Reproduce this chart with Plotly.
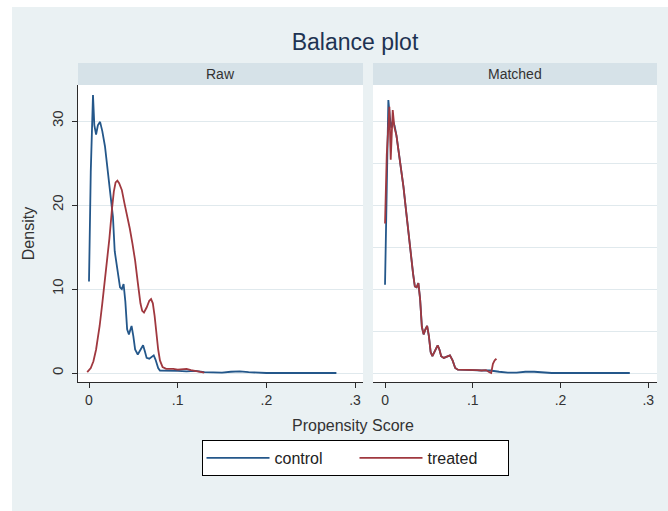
import plotly.graph_objects as go
from plotly.subplots import make_subplots

# ---- data ----
raw_control_x = [0.000, 0.002, 0.0045, 0.006, 0.008, 0.010, 0.0125, 0.015, 0.018, 0.021, 0.024,
                 0.027, 0.029, 0.031, 0.033, 0.035, 0.037, 0.039, 0.041, 0.043, 0.045, 0.048,
                 0.050, 0.052, 0.055, 0.058, 0.061, 0.063, 0.065, 0.068, 0.071, 0.073, 0.075,
                 0.078, 0.080, 0.090, 0.100, 0.110, 0.120, 0.130, 0.140, 0.150, 0.160, 0.170,
                 0.180, 0.190, 0.200, 0.220, 0.240, 0.260, 0.279]
raw_control_y = [10.9, 24.0, 33.1, 29.5, 28.4, 29.5, 29.9, 28.8, 27.0, 24.0, 21.5,
                 18.6, 14.5, 13.2, 11.8, 10.2, 10.0, 10.6, 8.5, 5.2, 4.6, 5.6,
                 4.4, 2.8, 2.2, 2.7, 3.3, 2.6, 1.8, 1.7, 2.0, 2.1, 1.6,
                 0.6, 0.3, 0.3, 0.25, 0.2, 0.25, 0.1, 0.05, 0.05, 0.15, 0.2,
                 0.1, 0.05, 0.0, 0.0, 0.0, 0.0, 0.0]

raw_treated_x = [-0.002, 0.002, 0.005, 0.008, 0.010, 0.012, 0.015, 0.018, 0.020, 0.023, 0.026,
                 0.028, 0.030, 0.032, 0.034, 0.037, 0.040, 0.043, 0.046, 0.049, 0.052, 0.055,
                 0.058, 0.060, 0.062, 0.065, 0.068, 0.070, 0.072, 0.074, 0.076, 0.078, 0.080,
                 0.083, 0.087, 0.095, 0.100, 0.105, 0.110, 0.115, 0.120, 0.125, 0.130]
raw_treated_y = [0.1, 0.6, 1.4, 2.8, 4.2, 5.6, 8.3, 11.2, 12.8, 16.0, 19.6,
                 21.6, 22.7, 22.9, 22.6, 21.8, 20.2, 18.8, 17.2, 15.4, 13.4, 10.8,
                 8.3, 7.4, 7.2, 7.8, 8.6, 8.8, 8.3, 6.8, 4.6, 2.8, 1.5,
                 0.7, 0.5, 0.5, 0.4, 0.45, 0.5, 0.35, 0.25, 0.1, 0.05]

matched_control_x = [0.000, 0.002, 0.0038, 0.0055, 0.007, 0.009, 0.011, 0.013, 0.015, 0.018, 0.021,
                     0.024, 0.027, 0.030, 0.032, 0.034, 0.036, 0.038, 0.040, 0.042, 0.044, 0.046,
                     0.048, 0.050, 0.052, 0.054, 0.057, 0.060, 0.062, 0.064, 0.067, 0.070, 0.074,
                     0.077, 0.080, 0.083, 0.090, 0.100, 0.110, 0.120, 0.130, 0.140, 0.150, 0.160,
                     0.170, 0.180, 0.190, 0.200, 0.240, 0.279]
matched_control_y = [10.5, 22.0, 32.5, 30.5, 29.2, 30.0, 29.4, 28.3, 26.9, 24.6, 22.2,
                     19.3, 16.2, 13.5, 11.8, 10.3, 10.2, 10.7, 8.8, 5.5, 4.6, 5.2,
                     5.6, 4.4, 2.5, 2.0, 2.6, 3.3, 2.8, 2.0, 1.8, 1.9, 2.1,
                     1.5, 0.6, 0.4, 0.35, 0.35, 0.3, 0.3, 0.15, 0.05, 0.05, 0.15,
                     0.15, 0.05, 0.0, 0.0, 0.0, 0.0]

matched_treated_x = [0.000, 0.002, 0.005, 0.0065, 0.0088, 0.0106, 0.013, 0.015, 0.018, 0.021, 0.024,
                     0.027, 0.030, 0.032, 0.034, 0.036, 0.038, 0.040, 0.042, 0.044, 0.046, 0.048,
                     0.050, 0.052, 0.054, 0.057, 0.060, 0.062, 0.064, 0.067, 0.070, 0.074, 0.077,
                     0.080, 0.083, 0.090, 0.100, 0.105, 0.110, 0.115, 0.119, 0.121, 0.123, 0.125,
                     0.127]
matched_treated_y = [17.8, 26.0, 31.7, 25.4, 31.3, 29.3, 28.3, 26.9, 24.6, 22.2, 19.3,
                     16.2, 13.5, 11.8, 10.3, 10.2, 10.7, 8.8, 5.5, 4.6, 5.2, 5.6,
                     4.4, 2.5, 2.0, 2.6, 3.3, 2.8, 2.0, 1.8, 1.9, 2.1, 1.5,
                     0.6, 0.4, 0.4, 0.4, 0.35, 0.3, 0.35, 0.1, 0.0, 1.1, 1.5,
                     1.7]

panel_titles = ["Raw", "Matched"]
series_names = ["control", "treated"]
x_tickvals = [0, 0.1, 0.2, 0.3]
x_ticktext = ["0", ".1", ".2", ".3"]
y_tickvals = [0, 10, 20, 30]
y_ticktext = ["0", "10", "20", "30"]

# ---- styling ----
BLUE = "#24578a"
RED = "#a0383f"
BG = "#eaf1f3"
STRIP = "#d6e2e8"
GRID = "#e0e9ed"
AXIS = "#2b2b2b"
FONT = "Liberation Sans, Arial, sans-serif"

W, H = 668, 511
ML, MR, MT, MB = 78, 11, 85, 129
PW, PH = W - ML - MR, H - MT - MB


def px_x(p):
    return (p - ML) / PW


def px_y(p):
    return (H - MB - p) / PH


fig = make_subplots(rows=1, cols=2, horizontal_spacing=0)

fig.add_trace(go.Scatter(x=raw_control_x, y=raw_control_y, mode="lines", name=series_names[0],
                         line=dict(color=BLUE, width=1.8), legendgroup="c"), row=1, col=1)
fig.add_trace(go.Scatter(x=raw_treated_x, y=raw_treated_y, mode="lines", name=series_names[1],
                         line=dict(color=RED, width=1.8), legendgroup="t"), row=1, col=1)
fig.add_trace(go.Scatter(x=matched_control_x, y=matched_control_y, mode="lines", name=series_names[0],
                         line=dict(color=BLUE, width=1.8), legendgroup="c", showlegend=False), row=1, col=2)
fig.add_trace(go.Scatter(x=matched_treated_x, y=matched_treated_y, mode="lines", name=series_names[1],
                         line=dict(color=RED, width=1.8), legendgroup="t", showlegend=False), row=1, col=2)

xcommon = dict(tickvals=x_tickvals, ticktext=x_ticktext, ticks="outside", ticklen=5, tickwidth=1,
               tickcolor=AXIS, showline=True, linecolor=AXIS, linewidth=1, showgrid=False,
               zeroline=False, tickfont=dict(size=14, color="#333333", family=FONT))
fig.update_layout(
    xaxis=dict(domain=[0, px_x(363)], range=[-0.0124, 0.309], **xcommon),
    xaxis2=dict(domain=[px_x(373), 1], range=[-0.0137, 0.310], **xcommon),
    yaxis=dict(range=[-1.07, 34.29], tickvals=y_tickvals, ticktext=y_ticktext, tickangle=-90,
               ticks="outside", ticklen=5, tickcolor=AXIS, showline=True, linecolor=AXIS,
               linewidth=1, showgrid=True, gridcolor=GRID, gridwidth=1, zeroline=False,
               tickfont=dict(size=15, color="#333333", family=FONT), ticklabelstandoff=3,
               automargin=False,
               title=dict(text="Density", font=dict(size=16, color="#333333", family=FONT),
                          standoff=10)),
    yaxis2=dict(range=[-1.07, 34.29], matches="y", showticklabels=False, ticks="", showline=False,
                showgrid=True, gridcolor=GRID, gridwidth=1, zeroline=False),
)

shapes = []
# white outer frame (top and left)
shapes.append(dict(type="rect", xref="paper", yref="paper", x0=px_x(0), x1=px_x(12),
                   y0=px_y(H), y1=px_y(0), fillcolor="white", line=dict(width=0), layer="below"))
shapes.append(dict(type="rect", xref="paper", yref="paper", x0=px_x(0), x1=px_x(W),
                   y0=px_y(7), y1=px_y(0), fillcolor="white", line=dict(width=0), layer="below"))
# panel strips
annotations = []
for (a, b), t in zip([(78, 363), (373, 657)], panel_titles):
    shapes.append(dict(type="rect", xref="paper", yref="paper", x0=px_x(a), x1=px_x(b),
                       y0=px_y(85), y1=px_y(63), fillcolor=STRIP, line=dict(width=0), layer="below"))
    annotations.append(dict(text=t, xref="paper", yref="paper", x=px_x((a + b) / 2), y=px_y(74),
                            xanchor="center", yanchor="middle", showarrow=False,
                            font=dict(size=14, color="#333333", family=FONT)))

annotations.append(dict(text="Propensity Score", xref="paper", yref="paper", x=px_x(353),
                        y=px_y(425), xanchor="center", yanchor="middle", showarrow=False,
                        font=dict(size=16, color="#333333", family=FONT)))

fig.update_layout(
    width=W, height=H,
    margin=dict(l=ML, r=MR, t=MT, b=MB, pad=0, autoexpand=False),
    paper_bgcolor=BG, plot_bgcolor="white",
    title=dict(text="Balance plot", x=px_x(355), xref="paper", xanchor="center",
               y=1 - 42 / H, yref="container", yanchor="middle",
               font=dict(size=23, color="#1e3352", family=FONT)),
    shapes=shapes, annotations=annotations,
    showlegend=True,
    legend=dict(orientation="h", x=px_x(355), xanchor="center", y=px_y(440), yanchor="top",
                bgcolor="white", bordercolor="black", borderwidth=1,
                font=dict(size=16, color="#222222", family=FONT),
                entrywidth=75, entrywidthmode="pixels", itemwidth=63),
    font=dict(family=FONT),
)

fig.write_html("out.html", config={"displayModeBar": False},
               post_script="document.body.style.margin='0';")
